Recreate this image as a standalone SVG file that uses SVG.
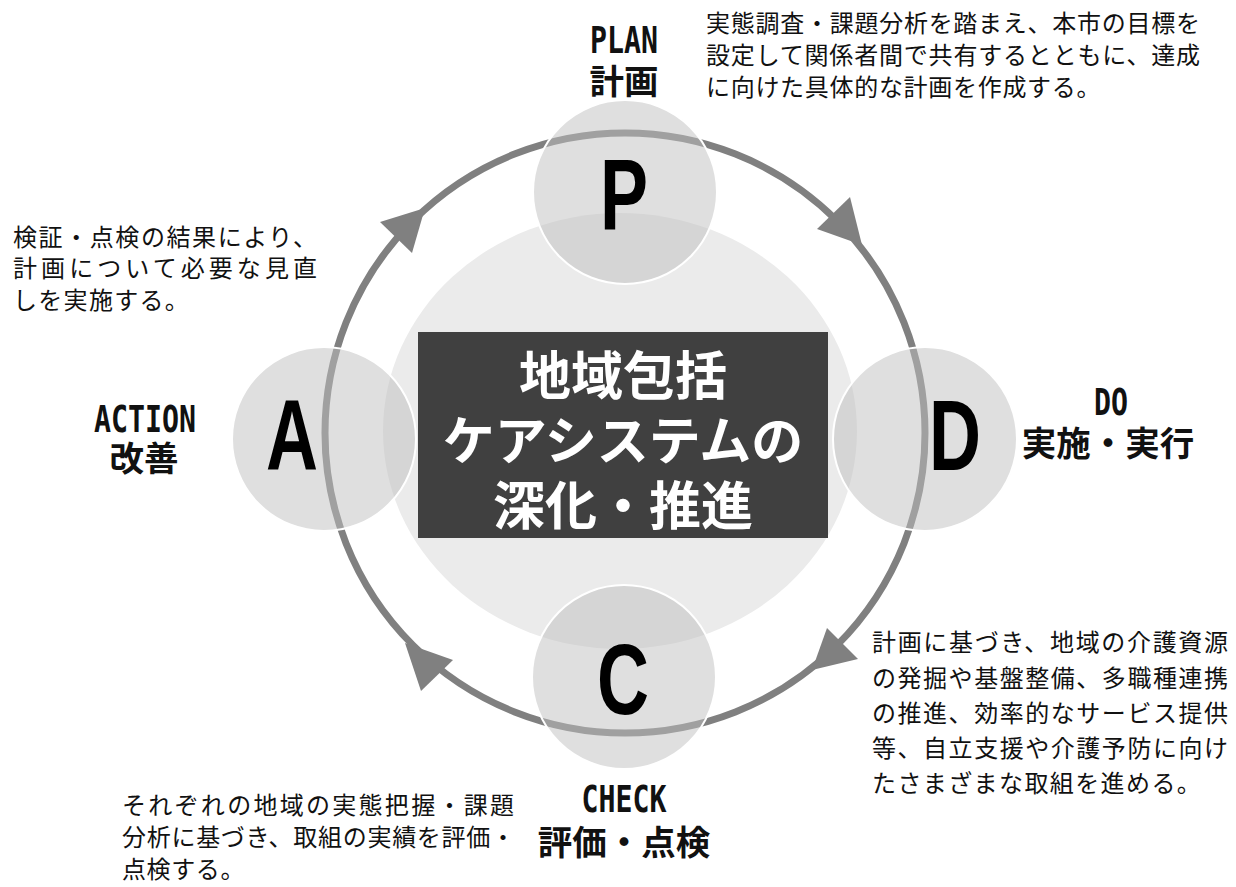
<svg xmlns="http://www.w3.org/2000/svg" width="1236" height="887" viewBox="0 0 1236 887">
<style>
.body{font-family:"Noto Sans CJK JP","Noto Sans",sans-serif;font-size:24px;fill:#111;}
.lab{font-family:"Noto Sans CJK JP","Noto Sans",sans-serif;font-size:34.5px;font-weight:700;fill:#111;text-anchor:middle;}
.lat{font-family:"DejaVu Sans Mono",monospace;font-size:38px;font-weight:700;}
.big{font-family:"Liberation Sans",Arial,sans-serif;font-size:100px;font-weight:700;fill:#000;text-anchor:middle;}
.title{font-family:"Noto Sans CJK JP",sans-serif;font-size:52px;font-weight:700;fill:#fff;text-anchor:middle;}
.node{fill:#bfbfbf;fill-opacity:0.5;stroke:#fff;stroke-width:2;}
.arrow{fill:#808080;}
</style>
<rect width="1236" height="887" fill="#fff"/>
<g id="core-bg">
<ellipse cx="620" cy="431" rx="237" ry="218" fill="#ebebeb"/>
</g>
<g id="connectors">
<circle cx="625" cy="433" r="300" fill="none" stroke="#808080" stroke-width="7"/>
<polygon class="arrow" points="850,197 817,229 862,245"/>
<polygon class="arrow" points="827,628 858,659 812,670"/>
<polygon class="arrow" points="453,660 421,691 405,643"/>
<polygon class="arrow" points="380,222 412,253 425,208"/>
</g>
<g id="node-p">
<circle class="node" cx="625" cy="192" r="92"/>
<text class="big" transform="translate(624,229) scale(0.72,1)">P</text>
<text class="lab" x="624" y="94"><tspan class="lat" x="624" y="53" textLength="68" lengthAdjust="spacingAndGlyphs">PLAN</tspan><tspan x="624" y="94">計画</tspan></text>
</g>
<g id="node-d">
<circle class="node" cx="925" cy="439" r="92"/>
<text class="big" transform="translate(955,470) scale(0.72,1)">D</text>
<text class="lab" x="1108" y="456"><tspan class="lat" x="1111" y="415" textLength="34" lengthAdjust="spacingAndGlyphs">DO</tspan><tspan x="1108" y="456">実施・実行</tspan></text>
</g>
<g id="node-c">
<circle class="node" cx="624" cy="677" r="92"/>
<text class="big" transform="translate(623,714) scale(0.72,1)">C</text>
<text class="lab" x="624" y="855"><tspan class="lat" x="624" y="812" textLength="85" lengthAdjust="spacingAndGlyphs">CHECK</tspan><tspan x="624" y="855">評価・点検</tspan></text>
</g>
<g id="node-a">
<circle class="node" cx="324" cy="439" r="92"/>
<text class="big" transform="translate(292,470) scale(0.72,1)">A</text>
<text class="lab" x="144" y="471"><tspan class="lat" x="145" y="432" textLength="102" lengthAdjust="spacingAndGlyphs">ACTION</tspan><tspan x="144" y="471">改善</tspan></text>
</g>
<g id="core">
<rect x="418" y="332" width="410" height="206" fill="#404040"/>
<text class="title" x="623" y="395">地域包括</text>
<text class="title" x="623" y="460">ケアシステムの</text>
<text class="title" x="623" y="525">深化・推進</text>
</g>
<g id="text-plan">
<text class="body" x="706" y="32" textLength="494" lengthAdjust="spacing">実態調査・課題分析を踏まえ、本市の目標を</text>
<text class="body" x="706" y="64" textLength="494" lengthAdjust="spacing">設定して関係者間で共有するとともに、達成</text>
<text class="body" x="706" y="96" letter-spacing="0.7">に向けた具体的な計画を作成する。</text>
</g>
<g id="text-action">
<text class="body" x="13" y="246" textLength="304" lengthAdjust="spacing">検証・点検の結果により、</text>
<text class="body" x="13" y="277" textLength="304" lengthAdjust="spacing">計画について必要な見直</text>
<text class="body" x="13" y="309" letter-spacing="1.3">しを実施する。</text>
</g>
<g id="text-do">
<text class="body" x="872" y="651" textLength="356" lengthAdjust="spacing">計画に基づき、地域の介護資源</text>
<text class="body" x="872" y="687" textLength="356" lengthAdjust="spacing">の発掘や基盤整備、多職種連携</text>
<text class="body" x="872" y="722" textLength="356" lengthAdjust="spacing">の推進、効率的なサービス提供</text>
<text class="body" x="872" y="757" textLength="356" lengthAdjust="spacing">等、自立支援や介護予防に向け</text>
<text class="body" x="872" y="792" letter-spacing="1.4">たさまざまな取組を進める。</text>
</g>
<g id="text-check">
<text class="body" x="122" y="814" textLength="392" lengthAdjust="spacing">それぞれの地域の実態把握・課題</text>
<text class="body" x="122" y="846" textLength="393" lengthAdjust="spacing">分析に基づき、取組の実績を評価・</text>
<text class="body" x="122" y="878" letter-spacing="0.6">点検する。</text>
</g>
</svg>
